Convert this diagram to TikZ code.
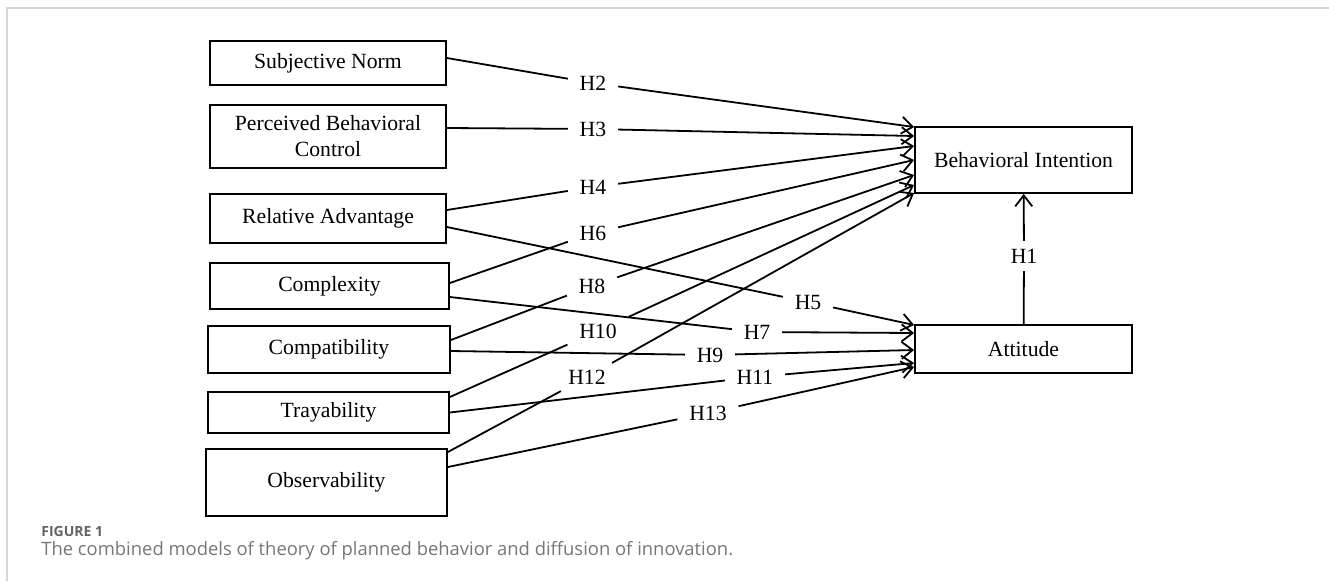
\documentclass[tikz,border=0pt]{standalone}
\usepackage{fontspec}
\setmainfont{Liberation Serif}
\newfontfamily\capfont{Open Sans}
\usepackage{tikz}
\usetikzlibrary{arrows.meta,positioning,calc}
\definecolor{framegray}{RGB}{214,214,214}
\definecolor{capgray}{RGB}{118,118,118}
\definecolor{labgray}{RGB}{100,100,100}

\tikzset{
  factor/.style={draw,line width=1.8pt,align=center,inner sep=2pt,
    font=\fontsize{21.7}{26}\selectfont},
  hyp/.style={inner xsep=11pt,inner ysep=6pt,font=\fontsize{21.7}{26}\selectfont},
  arr/.style={-{Straight Barb[length=11pt,width=17pt]}},
}

\begin{document}
\begin{tikzpicture}[x=1pt,y=-1pt,line width=1.8pt]
\useasboundingbox (0,0) rectangle (1329,581);
% frame of the figure panel
\draw[framegray,line width=2pt] (7,581) -- (7,7.5) -- (1329,7.5);

% constructs
\node[factor,minimum width=236pt,minimum height=44pt] (sn) at (328,63) {Subjective Norm};
\node[factor,minimum width=236pt,minimum height=63pt] (pbc) at (328,136.5) {Perceived Behavioral\\Control};
\node[factor,minimum width=236pt,minimum height=49pt] (ra) at (328,218.5) {Relative Advantage};
\node[factor,minimum width=239pt,minimum height=46pt] (cx) at (329.5,286) {Complexity};
\node[factor,minimum width=242pt,minimum height=47pt] (cp) at (329,349.5) {Compatibility};
\node[factor,minimum width=241pt,minimum height=41pt] (tr) at (328.5,412.5) {Trayability};
\node[factor,minimum width=241pt,minimum height=67pt] (ob) at (326.5,482.5) {Observability};
\node[factor,minimum width=217pt,minimum height=66pt] (bi) at (1023.5,160) {Behavioral Intention};
\node[factor,minimum width=217pt,minimum height=48pt] (at) at (1023.5,349) {Attitude};

% hypotheses: label, label position, source + offset, target + offset
\foreach \h/\lx/\ly/\s/\sy/\t/\ty in {
  2/593/83/sn/-5/bi/-33,
  3/593/129/pbc/-8.5/bi/-24,
  4/593/187/ra/-8.5/bi/-14,
  6/593/233/cx/-3/bi/0,
  8/592/286/cp/-9.5/bi/15,
  10/598/331/tr/-15.5/bi/25,
  12/587/377/ob/-30.5/bi/33,
  5/808/302/ra/8.5/at/-24,
  7/757/332/cx/11/at/-16,
  9/710/355/cp/1.5/at/1,
  11/755/377/tr/0/at/14,
  13/708/413/ob/-15.5/at/18}{
  \node[hyp] (h\h) at (\lx,\ly) {H\h};
  \draw ($(\s.east)+(0,\sy)$) -- (h\h);
  \draw[arr] (h\h) -- ($(\t.west)+(0,\ty)$);
}
\node[hyp,inner ysep=7pt] (h1) at (1024,256) {H1};
\draw (at) -- (h1);
\draw[arr] (h1) -- (bi);

% caption
\node[anchor=base west,inner sep=0pt,text=labgray,font=\capfont\bfseries\fontsize{14}{16}\selectfont] (figno) at (40.5,536) {FIGURE 1};
\node[anchor=base west,inner sep=0pt,text=capgray,font=\capfont\fontsize{18.4}{21}\selectfont] (figcap) at (40.5,555) {The combined models of theory of planned behavior and diffusion of innovation.};
\end{tikzpicture}
\end{document}
